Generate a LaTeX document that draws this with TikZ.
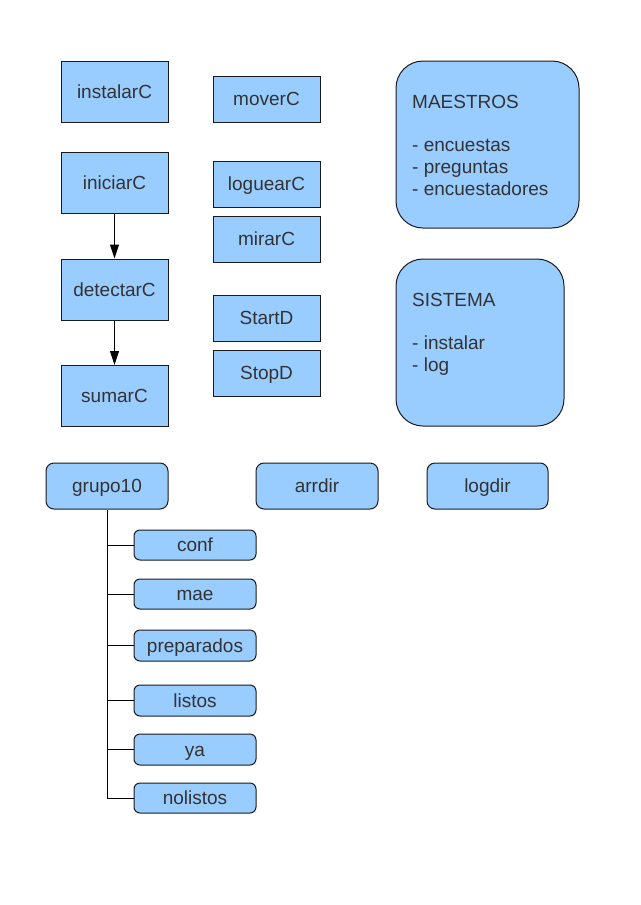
\documentclass[tikz,border=0pt]{standalone}
\usepackage{fontspec}
\setmainfont{Liberation Sans}
\usetikzlibrary{arrows.meta}
\definecolor{boxfill}{HTML}{99CCFF}
\definecolor{txt}{HTML}{333333}
\definecolor{edge}{HTML}{1A1A1A}
\tikzset{
  base/.style={draw=edge, fill=boxfill, line width=1pt, text=txt, inner sep=0pt,
    font=\fontsize{19}{22}\selectfont, text height=13.6pt, text depth=0pt},
  sqbox/.style={base, minimum width=107pt},
  dirbox/.style={base, rounded corners=8pt, minimum width=122pt, minimum height=46pt},
  subbox/.style={base, rounded corners=6pt, minimum width=122pt, minimum height=30pt},
  bigbox/.style={draw=edge, fill=boxfill, line width=1pt, rounded corners=27pt, inner sep=0pt},
  label/.style={text=txt, inner sep=0pt, font=\fontsize{19}{22}\selectfont, anchor=base west},
  conn/.style={draw=black, line width=1pt},
  arr/.style={conn, -{Triangle[length=14pt,width=9pt]}}
}
\begin{document}
\begin{tikzpicture}[x=1pt,y=-1pt]
\useasboundingbox (0,0) rectangle (640,905);
% left column
\node[sqbox, minimum height=61pt] (instalar) at (114.5,91.5) {instalarC};
\node[sqbox, minimum height=61pt] (iniciar) at (114.5,182.5) {iniciarC};
\node[sqbox, minimum height=61pt] (detectar) at (114.5,289.5) {detectarC};
\node[sqbox, minimum height=61pt] (sumar) at (114.5,396) {sumarC};
% middle column
\node[sqbox, minimum height=46pt] (mover) at (266.5,99) {moverC};
\node[sqbox, minimum height=46pt] (loguear) at (266.5,184) {loguearC};
\node[sqbox, minimum height=46pt] (mirar) at (266.5,239) {mirarC};
\node[sqbox, minimum height=46pt] (start) at (266.5,318) {StartD};
\node[sqbox, minimum height=46pt] (stop) at (266.5,373) {StopD};
% arrows
\draw[arr] (iniciar.south) -- (detectar.north);
\draw[arr] (detectar.south) -- (sumar.north);
% big rounded boxes
\node[bigbox, minimum width=183pt, minimum height=167pt] (maes) at (487.5,144.5) {};
\node[label] (maest) at (412,108) {MAESTROS};
\node[label] (maes1) at (412,151.5) {- encuestas};
\node[label] (maes2) at (412,173.5) {- preguntas};
\node[label] (maes3) at (412,195.5) {- encuestadores};
\node[bigbox, minimum width=168pt, minimum height=167pt] (sis) at (480,342.5) {};
\node[label] (sist) at (412,306) {SISTEMA};
\node[label] (sis1) at (412,349.5) {- instalar};
\node[label] (sis2) at (412,371.5) {- log};
% directories
\node[dirbox] (grupo) at (107,486) {grupo10};
\node[dirbox] (arrdir) at (317,486) {arrdir};
\node[dirbox, minimum width=121pt] (logdir) at (487.5,486) {logdir};
\node[subbox] (conf) at (195,545) {conf};
\node[subbox] (mae) at (195,594) {mae};
\node[subbox, minimum height=31pt] (prep) at (195,645.5) {preparados};
\node[subbox, minimum height=31pt] (listos) at (195,700.5) {listos};
\node[subbox, minimum height=31pt] (ya) at (195,749.5) {ya};
\node[subbox] (nolistos) at (195,798) {nolistos};
% tree
\draw[conn] (grupo.south) |- (nolistos.west);
\foreach \n in {conf,mae,prep,listos,ya}
  \draw[conn] (grupo.south |- \n.west) -- (\n.west);
\end{tikzpicture}
\end{document}
